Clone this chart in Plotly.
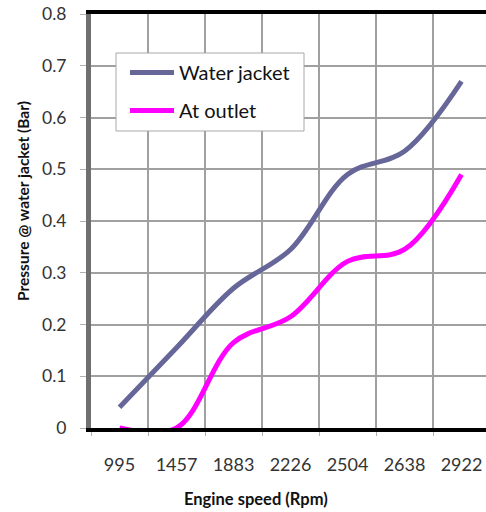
import plotly.graph_objects as go

categories = ["995", "1457", "1883", "2226", "2504", "2638", "2922"]
water_jacket = [0.04, 0.155, 0.27, 0.345, 0.49, 0.535, 0.67]
at_outlet = [0.0, 0.0, 0.165, 0.215, 0.322, 0.345, 0.49]
y_ticks = [0, 0.1, 0.2, 0.3, 0.4, 0.5, 0.6, 0.7, 0.8]

FONT = "Lato"
# the plot area runs slightly past the right edge of the 486px window, as in the reference
W, H = 490, 512
L, T, B = 91, 14, 84
PW, PH = W - L, H - T - B


def px_x(x):  # pixel -> paper x
    return (x - L) / PW


def px_y(y):  # pixel (from top) -> paper y
    return 1 - (y - T) / PH


fig = go.Figure()
fig.add_trace(go.Scatter(x=categories, y=water_jacket, mode="lines", name="Water jacket",
                         line=dict(color="#666699", width=5, shape="spline", smoothing=1.0),
                         legendgroup="a"))
fig.add_trace(go.Scatter(x=categories, y=at_outlet, mode="lines", name="At outlet",
                         line=dict(color="#ff00ff", width=5, shape="spline", smoothing=1.0),
                         legendgroup="b"))

# legend frame
fig.add_shape(type="rect", xref="paper", yref="paper", layer="above",
              x0=px_x(116), x1=px_x(304), y0=px_y(131), y1=px_y(53),
              fillcolor="white", line=dict(color="#a8a8a8", width=1))

fig.add_annotation(text="<b>Pressure @ water jacket (Bar)</b>", textangle=-90,
                   xref="paper", yref="paper", x=px_x(23), y=px_y(201),
                   xanchor="center", yanchor="middle", showarrow=False,
                   font=dict(family=FONT, size=15.5, color="#111"))
fig.add_annotation(text="<b>Engine speed (Rpm)</b>",
                   xref="paper", yref="paper", x=px_x(256), y=px_y(499),
                   xanchor="center", yanchor="middle", showarrow=False,
                   font=dict(family=FONT, size=16.5, color="#111"))

fig.update_layout(
    width=W, height=H,
    margin=dict(l=L, r=0, t=T, b=B),
    plot_bgcolor="white", paper_bgcolor="white",
    font=dict(family=FONT, size=15, color="#222"),
    hovermode=False,
    showlegend=True,
    legend=dict(x=px_x(125), y=px_y(53), xanchor="left", yanchor="top",
                bgcolor="rgba(0,0,0,0)", borderwidth=0,
                font=dict(family=FONT, size=20, color="#111"),
                tracegroupgap=9, itemwidth=44),
)
fig.update_xaxes(
    type="category", range=[-0.5, 6.5], tickson="boundaries", automargin=False,
    showgrid=True, gridcolor="#a0a0a0", gridwidth=1.5,
    showline=True, linecolor="black", linewidth=4, mirror=True,
    ticks="outside", ticklen=4, tickcolor="#b0b0b0", ticklabeloverflow="allow",
    ticklabelstandoff=17, tickfont=dict(size=18, color="#333"),
)
fig.update_yaxes(
    range=[0, 0.8], tickvals=y_ticks, ticktext=[str(v) for v in y_ticks], automargin=False,
    showgrid=True, gridcolor="#a0a0a0", gridwidth=1.5,
    showline=True, linecolor="#707070", linewidth=5,
    ticks="outside", ticklen=6, tickcolor="#b0b0b0", ticklabeloverflow="allow",
    ticklabelstandoff=10, tickfont=dict(size=17.5, color="#333"),
    zeroline=False,
)

# remove the browser's default 8px page margin so the figure sits at the window corner
fig.write_html("out.html", config={"displayModeBar": False},
               post_script="document.body.style.margin='0px';document.body.style.overflow='hidden';")
